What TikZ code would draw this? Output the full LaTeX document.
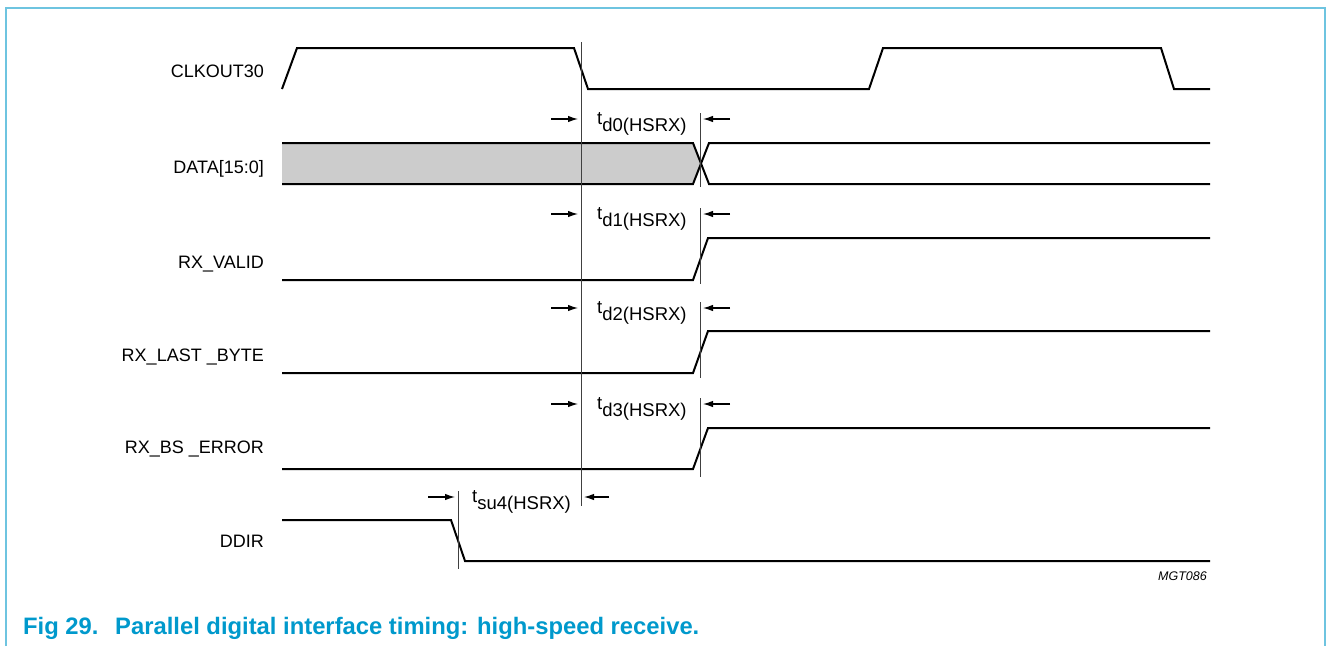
\documentclass[tikz,border=0pt]{standalone}
\usepackage{fontspec}
\setmainfont{Liberation Sans}
\usetikzlibrary{arrows.meta}
\definecolor{frameblue}{RGB}{110,196,224}
\definecolor{capblue}{RGB}{0,153,204}
\definecolor{datagray}{RGB}{204,204,204}
\tikzset{
  sig/.style={line width=2pt, line join=miter},
  refline/.style={line width=0.8pt, black!75},
  dimarrow/.style={line width=1.2pt, -{Latex[length=10pt,width=6.5pt]}},
  siglabel/.style={anchor=base east, inner sep=0pt, font=\fontsize{18}{20}\selectfont},
  tlabel/.style={anchor=base west, inner sep=0pt, font=\fontsize{18.5}{20}\selectfont},
}
\newcommand{\tsub}[2]{#1\raisebox{-7pt}{#2}}
\begin{document}
\begin{tikzpicture}[x=1pt,y=-1pt]
\useasboundingbox (0,0) rectangle (1327,646);
% frame
\draw[frameblue, line width=2pt] (6,646) -- (6,8) -- (1325,8) -- (1325,646);

% signal labels
\node[siglabel] (lclk) at (264,77) {CLKOUT30};
\node[siglabel] (ldata) at (264,173) {DATA[15:0]};
\node[siglabel] (lvalid) at (264,268) {RX\_VALID};
\node[siglabel] (llast) at (264,361) {RX\_LAST \_BYTE};
\node[siglabel] (lerr) at (264,453) {RX\_BS \_ERROR};
\node[siglabel] (lddir) at (264,547) {DDIR};

% CLKOUT30
\draw[sig] (282,89) -- (297,48) -- (574,48) -- (588,89) -- (869,89) -- (883,48) -- (1161,48) -- (1174,89) -- (1210,89);

% DATA
\fill[datagray] (282,143) -- (693,143) -- (701,163.5) -- (693,184) -- (282,184) -- cycle;
\draw[sig] (282,143) -- (693,143) -- (709,184) -- (1210,184);
\draw[sig] (282,184) -- (693,184) -- (709,143) -- (1210,143);

% RX_VALID
\draw[sig] (282,280) -- (693,280) -- (708,238) -- (1210,238);
% RX_LAST_BYTE
\draw[sig] (282,373) -- (693,373) -- (708,331) -- (1210,331);
% RX_BS_ERROR
\draw[sig] (282,469) -- (693,469) -- (708,428) -- (1210,428);
% DDIR
\draw[sig] (282,520) -- (451,520) -- (465,561) -- (1210,561);

% reference lines
\coordinate (r0) at (581,42);
\coordinate (r1) at (581,506);
\draw[refline] (r0) -- (r1);
\draw[refline] (700,113) -- (700,187);
\draw[refline] (700,208) -- (700,284);
\draw[refline] (700,302) -- (700,378);
\draw[refline] (700,398) -- (700,477);
\draw[refline] (458,491) -- (458,569);

% dimension arrows
\foreach \y in {119,214,308,404}{
  \draw[dimarrow] (551,\y) -- (578,\y);
  \draw[dimarrow] (730,\y) -- (703,\y);
}
\draw[dimarrow] (428,497) -- (455,497);
\draw[dimarrow] (609,497) -- (584,497);

% timing labels
\node[tlabel] (t0) at (597,124) {\tsub{t}{d0(HSRX)}};
\node[tlabel] (t1) at (597,219) {\tsub{t}{d1(HSRX)}};
\node[tlabel] (t2) at (597,313) {\tsub{t}{d2(HSRX)}};
\node[tlabel] (t3) at (597,409) {\tsub{t}{d3(HSRX)}};
\node[tlabel] (t4) at (472,502) {\tsub{t}{su4(HSRX)}};

% figure id
\node[anchor=base east, inner sep=0pt, font=\fontsize{12.5}{14}\selectfont\itshape] (mgt) at (1207,580) {MGT086};

% caption
\node[anchor=base west, inner sep=0pt, text=capblue, font=\fontsize{23.8}{26}\selectfont\bfseries] (capnum) at (23,634) {Fig 29.};
\node[anchor=base west, inner sep=0pt, text=capblue, font=\fontsize{23.8}{26}\selectfont\bfseries] (captext) at (115,634) {Parallel digital interface timing: high-speed receive.};
\end{tikzpicture}
\end{document}
